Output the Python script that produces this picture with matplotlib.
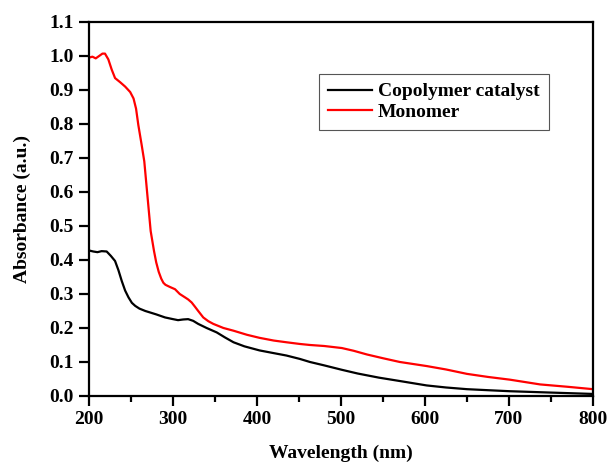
import matplotlib
matplotlib.use("Agg")
import matplotlib.pyplot as plt
from matplotlib.ticker import MultipleLocator

# wavelength (nm) / absorbance
wl_copolymer = [200, 205, 210, 215, 221, 226, 231, 235, 239, 243, 247, 251, 255, 260, 267,
                280, 290.5, 300, 306, 312, 318, 324, 330, 340, 352, 362, 372, 385, 403, 420,
                435, 451, 463, 480, 501, 520, 545, 570, 602, 625, 650, 675, 701, 750, 800]
abs_copolymer = [0.428, 0.425, 0.423, 0.426, 0.425, 0.412, 0.397, 0.37, 0.338, 0.31, 0.29,
                 0.274, 0.265, 0.257, 0.250, 0.240, 0.231, 0.226, 0.223, 0.225, 0.226, 0.221,
                 0.212, 0.200, 0.187, 0.172, 0.158, 0.146, 0.134, 0.126, 0.119, 0.109, 0.100,
                 0.090, 0.077, 0.066, 0.054, 0.044, 0.031, 0.025, 0.020, 0.017, 0.014, 0.010,
                 0.006]

wl_monomer = [200, 204, 208, 212, 216, 219, 223, 227, 231, 237, 243, 249, 253, 256, 258.7,
              262.7, 265.8, 269.5, 273.4, 277.4, 280, 283, 286, 288.5, 291, 296, 302.4, 308,
              314.3, 318, 322.2, 326, 330, 336, 342, 348, 360, 372, 388, 403, 420, 435, 451,
              463, 480, 501, 515, 531, 550, 570, 602, 625, 650, 675, 701, 737, 770, 800]
abs_monomer = [0.995, 0.998, 0.993, 1.000, 1.007, 1.007, 0.990, 0.960, 0.935, 0.923, 0.910,
               0.894, 0.875, 0.845, 0.797, 0.738, 0.690, 0.590, 0.485, 0.426, 0.393, 0.365,
               0.345, 0.333, 0.327, 0.321, 0.314, 0.300, 0.290, 0.284, 0.275, 0.263, 0.250,
               0.231, 0.220, 0.212, 0.200, 0.192, 0.180, 0.171, 0.163, 0.158, 0.153, 0.150,
               0.147, 0.141, 0.133, 0.122, 0.111, 0.100, 0.088, 0.078, 0.065, 0.056, 0.048,
               0.034, 0.027, 0.020]

plt.rcParams['font.family'] = ['Liberation Serif', 'DejaVu Serif']
plt.rcParams['font.weight'] = 'bold'

fig = plt.figure(figsize=(6.11, 4.62), dpi=100)
ax = fig.add_axes([0.1457, 0.1429, 0.8248, 0.8095])

ax.plot(wl_copolymer, abs_copolymer, color='black', lw=1.6, label='Copolymer catalyst')
ax.plot(wl_monomer, abs_monomer, color='#ff0000', lw=1.6, label='Monomer')

ax.set_xlim(200, 800)
ax.set_ylim(0.0, 1.1)
ax.xaxis.set_major_locator(MultipleLocator(100))
ax.xaxis.set_minor_locator(MultipleLocator(50))
ax.yaxis.set_major_locator(MultipleLocator(0.1))
ax.yaxis.set_major_formatter(plt.FormatStrFormatter('%.1f'))

for s in ax.spines.values():
    s.set_linewidth(1.6)
ax.tick_params(which='major', direction='out', length=7, width=1.6, labelsize=14, pad=4)
ax.tick_params(which='minor', direction='out', length=4, width=1.6)
for lab in ax.get_xticklabels() + ax.get_yticklabels():
    lab.set_fontweight('bold')

ax.set_xlabel('Wavelength (nm)', fontsize=14, fontweight='bold', labelpad=12)
ax.set_ylabel('Absorbance (a.u.)', fontsize=14, fontweight='bold', labelpad=13)

leg = ax.legend(loc='upper left', bbox_to_anchor=(0.456, 0.861),
                prop={'weight': 'bold', 'size': 14}, fancybox=False, framealpha=1,
                edgecolor='#555555', handlelength=2.3, handletextpad=0.3,
                labelspacing=0.15, borderpad=0.45, borderaxespad=0)
leg.get_frame().set_linewidth(0.8)

fig.savefig('out.png', dpi=100)
